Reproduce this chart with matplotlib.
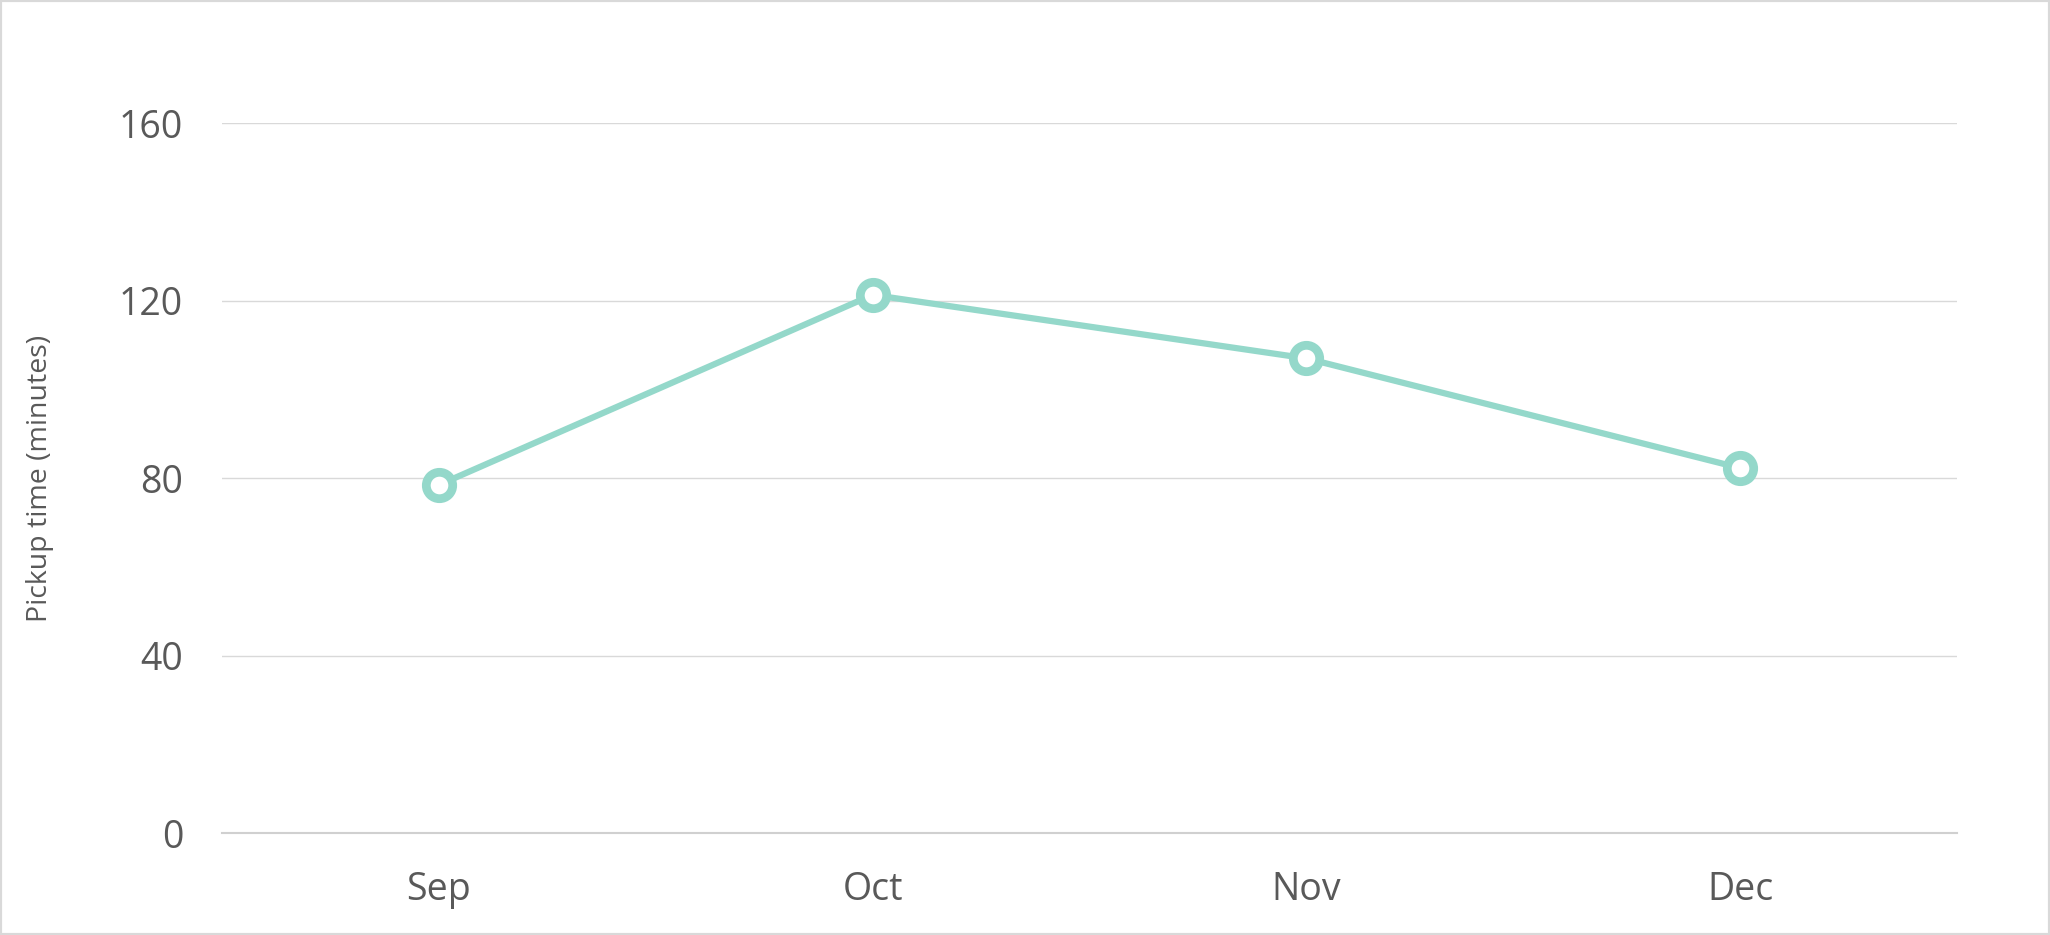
import matplotlib
matplotlib.use("Agg")
import matplotlib.pyplot as plt
from matplotlib.patches import Rectangle

months = ["Sep", "Oct", "Nov", "Dec"]
pickup_minutes = [78.5, 121.3, 107, 82.3]
y_ticks = [0, 40, 80, 120, 160]

LINE_COLOR = "#94D8CA"
TEXT_COLOR = "#595959"
GRID_COLOR = "#D9D9D9"

fig = plt.figure(figsize=(20.5, 9.35), dpi=100)
ax = fig.add_axes([0.1083, 0.1086, 0.8463, 0.7598])

x = list(range(len(months)))
ax.plot(x, pickup_minutes, color=LINE_COLOR, linewidth=4.5,
        marker="o", markersize=19, markeredgewidth=6.3,
        markerfacecolor="white", markeredgecolor=LINE_COLOR,
        clip_on=False, zorder=3)

ax.set_xlim(-0.5, len(months) - 0.5)
ax.set_ylim(0, 160)
ax.set_xticks(x)
ax.set_xticklabels(months)
ax.set_yticks(y_ticks)
ax.set_yticklabels([str(v) for v in y_ticks])

for lab in ax.get_xticklabels() + ax.get_yticklabels():
    lab.set_fontfamily("Open Sans")
    lab.set_fontsize(27)
    lab.set_color(TEXT_COLOR)

ax.tick_params(axis="both", length=0)
ax.tick_params(axis="y", pad=28)
ax.tick_params(axis="x", pad=27)

ax.grid(axis="y", color=GRID_COLOR, linewidth=1.0)
ax.set_axisbelow(True)
for side in ["top", "right", "left"]:
    ax.spines[side].set_visible(False)
ax.spines["bottom"].set_color("#D0D0D0")
ax.spines["bottom"].set_linewidth(1.5)

ax.set_ylabel("Pickup time (minutes)", fontsize=20.5, color=TEXT_COLOR,
              family=["Liberation Sans Narrow", "Open Sans"])
ax.yaxis.set_label_coords(-0.097, 0.5)

# light grey frame round the whole picture
fig.patches.append(Rectangle((0, 0), 1, 1, transform=fig.transFigure,
                             fill=False, edgecolor=GRID_COLOR, linewidth=3))

fig.savefig("out.png", dpi=100, facecolor="white")
